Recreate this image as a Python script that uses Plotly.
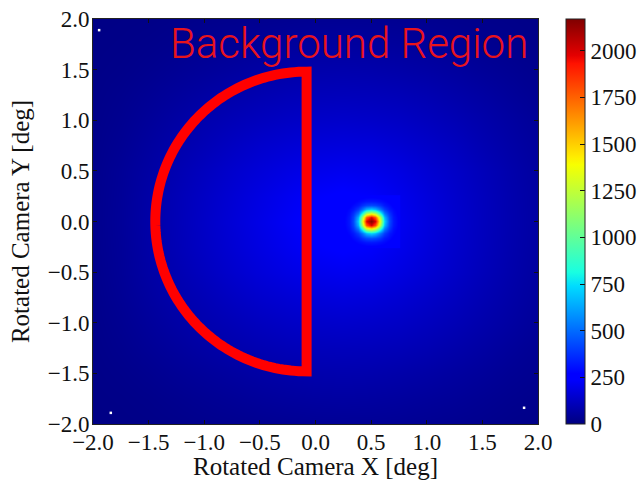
import numpy as np
import plotly.graph_objects as go

# Axis and colour-bar ticks
AXIS_TICKS = [-2.0, -1.5, -1.0, -0.5, 0.0, 0.5, 1.0, 1.5, 2.0]
AXIS_LABELS = ["\u22122.0", "\u22121.5", "\u22121.0", "\u22120.5", "0.0", "0.5", "1.0", "1.5", "2.0"]
CBAR_TICKS = [0, 250, 500, 750, 1000, 1250, 1500, 1750, 2000]
Z_MAX = 2170

# Coarse background counts (rows from y=-2 up to y=2)
BG_X = [-2.0, -1.75, -1.5, -1.25, -1.0, -0.75, -0.5, -0.25, 0.0, 0.25, 0.5, 0.75, 1.0, 1.25, 1.5, 1.75, 2.0]
BG_Y = BG_X
BG_COUNTS = [
    [10, 12, 15, 19, 24, 28, 32, 36, 39, 40, 40, 38, 34, 30, 26, 20, 16],
    [12, 15, 20, 27, 35, 42, 50, 56, 60, 62, 60, 56, 50, 44, 36, 28, 22],
    [14, 20, 29, 40, 50, 60, 70, 78, 84, 86, 84, 78, 70, 60, 50, 38, 30],
    [16, 26, 40, 54, 68, 82, 94, 104, 110, 112, 110, 104, 94, 80, 66, 50, 36],
    [18, 32, 50, 68, 86, 102, 118, 130, 138, 142, 138, 130, 116, 100, 82, 64, 46],
    [20, 38, 60, 82, 102, 124, 144, 158, 170, 176, 170, 156, 138, 118, 96, 74, 54],
    [22, 42, 68, 92, 118, 144, 168, 188, 204, 212, 204, 184, 160, 134, 108, 82, 58],
    [24, 44, 72, 100, 128, 156, 184, 210, 234, 246, 234, 204, 172, 142, 114, 86, 62],
    [24, 46, 74, 102, 132, 162, 192, 222, 248, 266, 258, 214, 178, 146, 116, 88, 64],
    [24, 44, 72, 100, 128, 156, 184, 210, 234, 246, 234, 204, 172, 142, 114, 86, 62],
    [22, 42, 66, 92, 118, 144, 166, 186, 202, 210, 202, 184, 158, 134, 108, 82, 58],
    [20, 36, 58, 80, 102, 124, 144, 158, 170, 174, 170, 156, 138, 118, 94, 72, 52],
    [18, 30, 48, 66, 86, 102, 116, 128, 136, 140, 136, 128, 114, 98, 80, 62, 44],
    [16, 25, 38, 52, 66, 80, 92, 102, 108, 110, 108, 102, 92, 78, 64, 48, 34],
    [14, 19, 28, 38, 48, 58, 68, 76, 82, 84, 82, 76, 68, 58, 46, 36, 26],
    [12, 15, 20, 26, 33, 40, 46, 52, 56, 58, 56, 52, 46, 38, 30, 24, 18],
    [10, 12, 14, 18, 22, 26, 30, 33, 36, 37, 36, 33, 30, 26, 22, 18, 14],
]

# Point source counts in image bins
SRC_X = [0.26, 0.30, 0.34, 0.38, 0.42, 0.46, 0.50, 0.54, 0.58, 0.62, 0.66, 0.70, 0.74]
SRC_Y = [-0.24, -0.20, -0.16, -0.12, -0.08, -0.04, 0.0, 0.04, 0.08, 0.12, 0.16, 0.20, 0.24]
SRC_COUNTS = [
    [240, 245, 250, 256, 262, 268, 270, 268, 262, 256, 250, 245, 240],
    [245, 250, 260, 285, 300, 315, 320, 315, 300, 285, 260, 250, 245],
    [250, 260, 290, 320, 375, 415, 430, 415, 375, 320, 290, 260, 250],
    [256, 285, 320, 400, 520, 660, 720, 660, 520, 400, 320, 285, 256],
    [262, 300, 375, 520, 820, 1180, 1300, 1180, 820, 520, 375, 300, 262],
    [268, 315, 415, 660, 1180, 1780, 2000, 1780, 1180, 660, 415, 315, 268],
    [270, 320, 430, 720, 1300, 2000, 2170, 2000, 1300, 720, 430, 320, 270],
    [268, 315, 415, 660, 1180, 1780, 2000, 1780, 1180, 660, 415, 315, 268],
    [262, 300, 375, 520, 820, 1180, 1300, 1180, 820, 520, 375, 300, 262],
    [256, 285, 320, 400, 520, 660, 720, 660, 520, 400, 320, 285, 256],
    [250, 260, 290, 320, 375, 415, 430, 415, 375, 320, 290, 260, 250],
    [245, 250, 260, 285, 300, 315, 320, 315, 300, 285, 260, 250, 245],
    [240, 245, 250, 256, 262, 268, 270, 268, 262, 256, 250, 245, 240],
]

# Dead pixels (shown white)
DEAD_X = [-1.945, -1.84, 1.875]
DEAD_Y = [1.89, -1.89, -1.84]

# Background region: half ellipse drawn over the map
REGION_X0, REGION_Y0 = -0.08, 0.0
REGION_RX, REGION_RY = 1.36, 1.48

JET = [
    [0.0, "rgb(0,0,128)"], [0.11, "rgb(0,0,255)"], [0.125, "rgb(0,0,255)"],
    [0.34, "rgb(0,219,255)"], [0.375, "rgb(25,255,225)"], [0.64, "rgb(247,255,0)"],
    [0.66, "rgb(255,236,0)"], [0.89, "rgb(255,18,0)"], [0.91, "rgb(228,0,0)"],
    [1.0, "rgb(128,0,0)"],
]

SERIF = "Liberation Serif, DejaVu Serif, serif"

fig = go.Figure()
fig.add_heatmap(x=BG_X, y=BG_Y, z=BG_COUNTS, coloraxis="coloraxis", zsmooth="best", hoverinfo="skip")
fig.add_heatmap(x=SRC_X, y=SRC_Y, z=SRC_COUNTS, coloraxis="coloraxis", zsmooth="best", hoverinfo="skip")
fig.add_scatter(x=DEAD_X, y=DEAD_Y, mode="markers", showlegend=False, hoverinfo="skip",
                marker=dict(symbol="square", size=2.5, color="white", line=dict(width=0)))

theta = np.linspace(np.pi / 2, 3 * np.pi / 2, 121)
px = REGION_X0 + REGION_RX * np.cos(theta)
py = REGION_Y0 + REGION_RY * np.sin(theta)
path = "M " + " L ".join(f"{a:.4f},{b:.4f}" for a, b in zip(px, py)) + " Z"
fig.add_shape(type="path", path=path, xref="x", yref="y", layer="above",
              line=dict(color="#ff0000", width=10), fillcolor="rgba(0,0,0,0)")

fig.add_annotation(text="Background Region", xref="paper", yref="paper", x=0.168, y=1.0,
                   xanchor="left", yanchor="top", showarrow=False, yshift=2,
                   font=dict(family="Roboto, Lato, sans-serif", size=42, color="#e8141c", weight=300))

axis = dict(range=[-2, 2], tickvals=AXIS_TICKS, ticktext=AXIS_LABELS, ticks="inside", ticklen=4,
            tickcolor="#111", tickwidth=1, showline=True, linecolor="#222", linewidth=1, mirror="ticks",
            showgrid=False, zeroline=False, automargin=True,
            tickfont=dict(family=SERIF, size=23, color="#111"),
            title_font=dict(family=SERIF, size=25, color="#111"))

fig.update_layout(
    width=638, height=480, autosize=False,
    margin=dict(l=93, r=100, t=19, b=56, autoexpand=False),
    paper_bgcolor="white", plot_bgcolor="white", showlegend=False,
    xaxis=dict(axis, ticklabelstandoff=-3, title=dict(text="Rotated Camera X [deg]", standoff=2)),
    yaxis=dict(axis, ticklabelstandoff=-2, title=dict(text="Rotated Camera Y [deg]", standoff=10)),
    coloraxis=dict(
        colorscale=JET, cmin=0, cmax=Z_MAX,
        colorbar=dict(x=1.063, xanchor="left", xpad=0, ypad=0, y=0, yanchor="bottom", len=1, lenmode="fraction",
                      thickness=19, thicknessmode="pixels", outlinecolor="#222", outlinewidth=1,
                      tickvals=CBAR_TICKS, ticks="inside", ticklen=5, tickcolor="#111",
                      tickfont=dict(family=SERIF, size=23, color="#111")),
    ),
)
fig.write_html("out.html", post_script="document.body.style.margin='0';", config=dict(displayModeBar=False))
